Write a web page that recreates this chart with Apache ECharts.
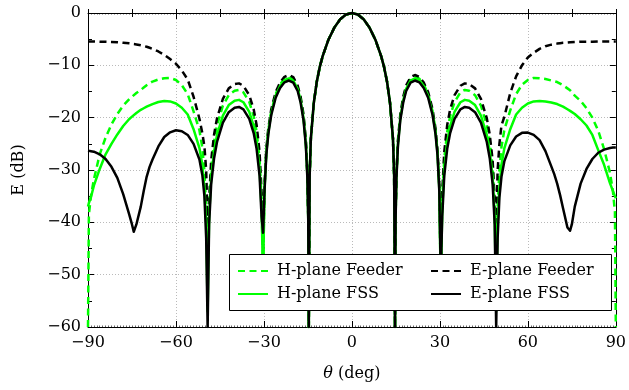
<!DOCTYPE html>
<html><head><meta charset="utf-8">
<script src="https://cdn.jsdelivr.net/npm/echarts@6/dist/echarts.min.js"></script>
<style>html,body{margin:0;padding:0;background:#fff}#c{width:629px;height:390px}</style>
</head><body><div id="c"></div>
<script>
// angle samples (deg), shared by all four curves
const theta = [-90,-89.7,-89,-88,-86,-84,-82,-80,-78,-76,-75,-74.4,-73.5,-72,-71,-70,-69,-68,-66,-64,-62,-60,-58,-56,-54,-52,-51,-50.3,-49.7,-49.2,
 -48.7,-48,-47,-46,-44,-42,-40,-38.5,-37,-35,-33.5,-32.5,-31.5,-30.8,-30.3,
 -29.8,-29.2,-28.5,-27.5,-26,-24.5,-23,-21.5,-20,-18.5,-17.5,-16.5,-15.7,-15.2,-14.9,-14.7,
 -14.4,-14,-13,-12,-11,-10,-8,-6,-4,-2,0,2,4,6,8,10,11,12,13,14,14.4,
 14.7,14.9,15.2,15.7,16.5,17.5,18.5,20,21.5,23,24.5,26,27.5,28.5,29.2,29.8,
 30.3,30.8,31.5,32.5,33.5,35,37,38.5,40,42,44,46,47,48,48.7,
 49.2,49.7,50.3,51,52,54,56,58,60,62,64,66,68,69,70,71,72,73.5,74.4,75,76,78,80,82,84,86,88,89,89.7,90];

const hPlaneFeeder = [-60,-38.5,-35,-31.8,-27,-23.8,-21.3,-19.3,-17.7,-16.5,-16.0,-15.7,-15.3,-14.7,-14.25,-13.8,-13.45,-13.1,-12.7,-12.45,-12.4,-12.8,-13.8,-15.5,-18.8,-22.4,-25.8,-30.2,-37.2,-50,
 -37.2,-29.5,-24.5,-21.4,-17.7,-15.7,-14.85,-14.7,-15.15,-17.0,-19.7,-22.7,-27.8,-35.7,-50,
 -33.3,-26.5,-22.4,-18.8,-15.5,-13.65,-12.55,-12.2,-12.6,-14.2,-16.4,-19.8,-24.7,-30.7,-38.7,-60,
 -31,-24,-17.2,-13.2,-10.4,-8.3,-5.1,-2.8,-1.2,-0.3,0,-0.3,-1.2,-2.8,-5.1,-8.3,-10.4,-13.2,-17.2,-24,-31,
 -60,-38.7,-30.7,-24.7,-19.8,-16.4,-14.2,-12.6,-12.2,-12.55,-13.65,-15.5,-18.8,-22.4,-26.5,-33.3,
 -52,-35.7,-27.8,-22.7,-19.7,-17.0,-15.15,-14.7,-14.85,-15.7,-17.7,-21.4,-24.5,-29.5,-37.2,
 -50,-37,-30,-25.6,-22.3,-18.6,-15.5,-13.7,-12.8,-12.4,-12.45,-12.6,-12.9,-13.05,-13.2,-13.5,-13.8,-14.4,-14.75,-15.0,-15.8,-16.8,-18.2,-20.0,-22.5,-26.0,-30.5,-34.0,-38.0,-60];

const ePlaneFeeder = [-5.45,-5.45,-5.45,-5.45,-5.5,-5.5,-5.55,-5.6,-5.7,-5.8,-5.9,-5.95,-6.0,-6.15,-6.3,-6.45,-6.65,-6.85,-7.35,-8.0,-8.8,-9.7,-11.0,-12.7,-16.0,-20.2,-23.0,-25.5,-30,-40,
 -35.9,-28.2,-23.2,-20.1,-16.4,-14.4,-13.6,-13.45,-13.9,-15.7,-18.4,-21.4,-26.5,-34.4,-45,
 -32.9,-26.1,-22.0,-18.4,-15.1,-13.3,-12.2,-11.85,-12.25,-13.85,-16.0,-19.4,-24.3,-30.3,-38.3,-60,
 -31,-24,-17.2,-13.2,-10.4,-8.3,-5.1,-2.8,-1.2,-0.3,0,-0.3,-1.2,-2.8,-5.1,-8.3,-10.4,-13.2,-17.2,-24,-31,
 -60,-38.3,-30.3,-24.3,-19.4,-16.0,-13.85,-12.25,-11.85,-12.2,-13.3,-15.1,-18.4,-22.0,-26.1,-32.9,
 -48,-34.4,-26.5,-21.4,-18.4,-15.7,-13.9,-13.45,-13.6,-14.4,-16.4,-20.1,-23.2,-28.2,-35.9,
 -40,-30,-25,-21.5,-19.8,-15.3,-12.1,-10.0,-8.5,-7.6,-6.85,-6.35,-6.05,-5.95,-5.85,-5.78,-5.7,-5.65,-5.6,-5.6,-5.55,-5.5,-5.5,-5.5,-5.45,-5.45,-5.45,-5.45,-5.45,-5.45];

const hPlaneFSS = [-37,-36.3,-35.2,-33,-29.8,-27,-25.0,-23.2,-21.6,-20.3,-19.8,-19.5,-19.1,-18.5,-18.2,-17.9,-17.65,-17.4,-17.0,-16.8,-16.9,-17.3,-18.1,-19.4,-22.2,-25.8,-29,-33.5,-40,-57,
 -39.1,-31.4,-26.4,-23.3,-19.6,-17.6,-16.75,-16.6,-17.05,-18.9,-21.6,-24.6,-29.7,-37.6,-50,
 -33.6,-26.8,-22.7,-19.1,-15.8,-13.95,-12.85,-12.5,-12.9,-14.5,-16.7,-20.1,-25.0,-31.0,-39.0,-60,
 -31,-24,-17.2,-13.2,-10.4,-8.3,-5.1,-2.8,-1.2,-0.3,0,-0.3,-1.2,-2.8,-5.1,-8.3,-10.4,-13.2,-17.2,-24,-31,
 -60,-39.0,-31.0,-25.0,-20.1,-16.7,-14.5,-12.9,-12.5,-12.85,-13.95,-15.8,-19.1,-22.7,-26.8,-33.6,
 -52,-37.6,-29.7,-24.6,-21.6,-18.9,-17.05,-16.6,-16.75,-17.6,-19.6,-23.3,-26.4,-31.4,-39.1,
 -57,-40,-33.5,-29,-25.8,-22.2,-19.4,-18.1,-17.3,-16.9,-16.8,-16.9,-17.1,-17.25,-17.4,-17.65,-17.9,-18.4,-18.7,-18.9,-19.3,-20.3,-21.5,-23.3,-26.2,-29.0,-32.5,-34.0,-35.0,-35.4];

const ePlaneFSS = [-26.3,-26.3,-26.4,-26.5,-27.0,-27.9,-29.4,-31.5,-34.6,-38.4,-40.4,-41.8,-40.4,-37.0,-34.0,-31.3,-29.4,-28.0,-25.5,-23.7,-22.8,-22.4,-22.6,-23.3,-25.0,-28.0,-31,-35,-43,-60,
 -40.45,-32.75,-27.75,-24.65,-20.95,-18.95,-18.1,-17.95,-18.4,-20.25,-22.95,-25.95,-31.05,-38.95,-42,
 -34.0,-27.2,-23.1,-19.5,-16.2,-14.35,-13.25,-12.9,-13.3,-14.9,-17.1,-20.5,-25.4,-31.4,-39.4,-60,
 -31,-24,-17.2,-13.2,-10.4,-8.3,-5.1,-2.8,-1.2,-0.3,0,-0.3,-1.2,-2.8,-5.1,-8.3,-10.4,-13.2,-17.2,-24,-31,
 -60,-39.4,-31.4,-25.4,-20.5,-17.1,-14.9,-13.3,-12.9,-13.25,-14.35,-16.2,-19.5,-23.1,-27.2,-34.0,
 -50,-38.95,-31.05,-25.95,-22.95,-20.25,-18.4,-17.95,-18.1,-18.95,-20.95,-24.65,-27.75,-32.75,-40.45,
 -60,-43,-35.3,-31.3,-28.3,-25.3,-23.6,-22.9,-22.85,-23.3,-24.3,-26.4,-29.3,-30.8,-32.6,-34.8,-37.3,-41.0,-41.6,-40.4,-37.0,-32.6,-29.8,-27.9,-26.7,-26.1,-25.8,-25.7,-25.7,-25.7];

const xTickLabels = [-90,-60,-30,0,30,60,90];
const yTickLabels = [-60,-50,-40,-30,-20,-10,0];
const seriesNames = ['H-plane Feeder','E-plane Feeder','H-plane FSS','E-plane FSS'];

const FONT = 'DejaVu Serif';
const GREEN = '#00ff00';
const fmt = v => String(v).replace('-', '\u2212');
const pair = vals => theta.map((t, i) => [t, vals[i]]);

const gridLine = {show:true, lineStyle:{color:'#a8a8a8', width:0.8, type:[1,2]}};
const lbl = {fontFamily:FONT, fontSize:16, color:'#000'};

function xAxisMain(pos, labels){
  return {type:'value', position:pos, min:xTickLabels[0], max:xTickLabels[xTickLabels.length-1], interval:30,
    axisLine:{show:true, onZero:false, lineStyle:{color:'#000', width:1}},
    axisTick:{show:true, inside:true, length:6, lineStyle:{color:'#000', width:1}},
    minorTick:{show:true, splitNumber:30, length:1.5, lineStyle:{color:'#000', width:0.6}},
    axisLabel:Object.assign({show:labels, margin:8, formatter:fmt}, lbl),
    splitLine: labels ? gridLine : {show:false},
    name: labels ? '{i|\u03b8} (deg)' : '', nameLocation:'middle', nameGap:39,
    nameTextStyle:Object.assign({rich:{i:{fontStyle:'italic', fontFamily:FONT, fontSize:16, color:'#000'}}}, lbl)};
}
function xAxisMid(pos){
  return {type:'value', position:pos, min:-90, max:90, interval:15,
    axisLine:{show:false}, axisTick:{show:true, inside:true, length:4, lineStyle:{color:'#000', width:1}},
    axisLabel:{show:false}, splitLine:{show:false}};
}
function yAxisMain(pos, labels){
  return {type:'value', position:pos, min:yTickLabels[0], max:yTickLabels[yTickLabels.length-1], interval:10,
    axisLine:{show:true, onZero:false, lineStyle:{color:'#000', width:1}},
    axisTick:{show:true, inside:true, length:6, lineStyle:{color:'#000', width:1}},
    minorTick:{show:true, splitNumber:2, length:4, lineStyle:{color:'#000', width:1}},
    axisLabel:Object.assign({show:labels, margin:7, formatter:fmt}, lbl),
    splitLine: labels ? gridLine : {show:false},
    name: labels ? 'E (dB)' : '', nameLocation:'middle', nameGap:61, nameRotate:90,
    nameTextStyle:lbl};
}

function mkSeries(name, vals, color, dashed){
  return {name, type:'line', data:pair(vals), xAxisIndex:0, yAxisIndex:0,
    showSymbol:false, symbol:'circle', symbolSize:0, animation:false, clip:true, silent:true, z:2,
    itemStyle:{color},
    lineStyle:{color, width:2.5, type: dashed ? [7,4.5] : 'solid', cap:'butt', join:'round'}};
}

const legendCommon = {orient:'vertical', top:263, itemWidth:30, itemHeight:16, itemGap:7, padding:0,
  selectedMode:false, z:5, itemStyle:{opacity:0},
  textStyle:{fontFamily:FONT, fontSize:16, color:'#000', lineHeight:16, padding:[0,0,0,4]}};

const chart = echarts.init(document.getElementById('c'), null, {renderer:'canvas'});
chart.setOption({
  animation:false,
  backgroundColor:'#fff',
  grid:{left:88, right:10, top:13, bottom:63, containLabel:false},
  xAxis:[xAxisMain('bottom', true), xAxisMain('top', false), xAxisMid('bottom'), xAxisMid('top')],
  yAxis:[yAxisMain('left', true), yAxisMain('right', false)],
  legend:[
    Object.assign({data:[seriesNames[0], seriesNames[2]], left:237}, legendCommon),
    Object.assign({data:[seriesNames[1], seriesNames[3]], left:430}, legendCommon)
  ],
  graphic:{elements:[{type:'rect', z:3, silent:true,
    shape:{x:229.5, y:254.5, width:382, height:56},
    style:{fill:'#fff', stroke:'#000', lineWidth:1}}]},
  series:[
    mkSeries(seriesNames[0], hPlaneFeeder, GREEN, true),
    mkSeries(seriesNames[1], ePlaneFeeder, '#000', true),
    mkSeries(seriesNames[2], hPlaneFSS, GREEN, false),
    mkSeries(seriesNames[3], ePlaneFSS, '#000', false)
  ]
});
</script></body></html>
